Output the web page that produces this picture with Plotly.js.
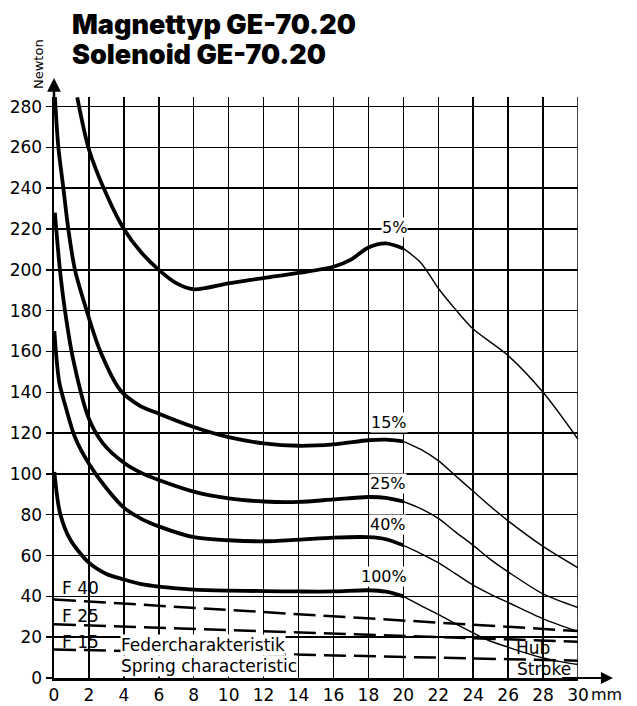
<!DOCTYPE html>
<html><head><meta charset="utf-8">
<script src="https://cdn.plot.ly/plotly-3.0.1.min.js"></script>
<style>html,body{margin:0;padding:0;background:#fff}#chart{width:637px;height:706px}</style>
</head><body><div id="chart"></div>
<script>
// ---- data ----
const xTickVals = [0,2,4,6,8,10,12,14,16,18,20,22,24,26,28,30];
const yTickVals = [0,20,40,60,80,100,120,140,160,180,200,220,240,260,280];

const x5   = [1.33,2,3,4,5,6,7,8,10,12,14,16,17,18,19,20,21,22,23,24,26,28,30];
const y5   = [284.5,259,237,220,208.5,200,193.5,190.5,193.4,196,198.5,201.5,205,211,213,210.5,203.5,191,180.5,171,158,140,117];

const x15  = [0.05,0.25,0.53,0.82,1.2,1.87,2.63,3.8,4.9,6,8,10,12,14,16,18,19,20,21,22,23,24,25,26,28,30];
const y15  = [285,260,240.5,220,200,180,160.5,141,133.5,129.5,123,118,115,113.8,114.5,116.5,116.8,116,112,106.5,99,91.5,84,77,64.5,54];

const x25  = [0.05,0.34,0.63,1.1,2,2.8,4,5,6,8,10,12,14,16,18,19,20,21,22,23,24,25,26,28,30];
const y25  = [228,200,180,156,127,115,105.5,100.5,97,91.3,88,86.5,86.3,87.5,88.7,88.3,86.5,83,78.2,71.5,65,58,52,41.2,34.5];

const x40  = [0.02,0.3,0.73,1.2,2,3,4,5,6,8,10,12,14,16,18,19,20,21,22,23,24,25,26,28,30];
const y40  = [170,145,131,118,105,93,83.5,78,74.3,69,67.5,67,67.8,68.8,69,68,65,61,56.5,51,45.5,41,37,29,22.8];

const x100 = [0.02,0.34,0.92,2,3,4,5,6,8,10,12,14,16,18,19,20,21,22,23,24,25,26,27,28,29,30];
const y100 = [101,81,68,56.5,51,48.3,46,44.8,43.3,42.8,42.6,42.4,42.4,43,42.3,40,35.5,31.2,26.5,22.1,18,15.1,12.3,9.8,8,6.6];

const springX = [0,30];
const springF40 = [38.5,23];
const springF25 = [26.3,17.8];
const springF15 = [14,8.5];

const curveLabels = ["5%","15%","25%","40%","100%"];
const springLabels = ["F 40","F 25","F 15"];
const titleLines = ["Magnettyp GE-70.20","Solenoid GE-70.20"];

// ---- build traces ----
const FONT = "DejaVu Sans, Verdana, sans-serif";
const TITLEFONT = "Inter, DejaVu Sans, sans-serif";
const SPLIT = 20;
const traces = [];
function addCurve(xs, ys){
  const tx=[],ty=[],nx=[],ny=[];
  xs.forEach((x,i)=>{
    if(x<=SPLIT){tx.push(x);ty.push(ys[i]);}
    if(x>=SPLIT){nx.push(x);ny.push(ys[i]);}
  });
  traces.push({x:tx,y:ty,mode:'lines',line:{color:'#000',width:3.8,shape:'spline',smoothing:0.8},hoverinfo:'skip',cliponaxis:false});
  traces.push({x:nx,y:ny,mode:'lines',line:{color:'#000',width:1.4,shape:'spline',smoothing:0.8},hoverinfo:'skip',cliponaxis:false});
}
addCurve(x5,y5); addCurve(x15,y15); addCurve(x25,y25); addCurve(x40,y40); addCurve(x100,y100);
[springF40,springF25,springF15].forEach(ys=>{
  traces.push({x:springX,y:ys,mode:'lines',line:{color:'#000',width:2.5,dash:'22px,8px'},hoverinfo:'skip'});
});

const curveLabelPos = [[19.5,221],[19.2,125],[19.1,95.2],[19.1,75.1],[18.9,49.5]];
const springLabelPos = [[0.34,44],[0.34,30.2],[0.34,17.6]];

const T = (o)=>Object.assign({showarrow:false,xanchor:'center',yanchor:'middle'},o);
const annotations = [];
curveLabels.forEach((t,i)=>annotations.push(T({x:curveLabelPos[i][0],y:curveLabelPos[i][1],xref:'x',yref:'y',text:t,font:{family:FONT,size:16,color:'#000'},bgcolor:'#fff',borderpad:0})));
springLabels.forEach((t,i)=>annotations.push(T({x:springLabelPos[i][0],y:springLabelPos[i][1],xref:'x',yref:'y',xanchor:'left',text:t,font:{family:FONT,size:17,color:'#000'}})));
annotations.push(T({x:3.78,y:16.3,xref:'x',yref:'y',xanchor:'left',text:'Federcharakteristik',font:{family:FONT,size:17,color:'#000'},bgcolor:'#fff',borderpad:0}));
annotations.push(T({x:3.78,y:5.7,xref:'x',yref:'y',xanchor:'left',text:'Spring characteristic',font:{family:FONT,size:17,color:'#000'},bgcolor:'#fff',borderpad:0}));
annotations.push(T({x:27.45,y:14.7,xref:'x',yref:'y',text:'Hub',font:{family:FONT,size:17,color:'#000'}}));
annotations.push(T({x:28.05,y:4.2,xref:'x',yref:'y',text:'Stroke',font:{family:FONT,size:17,color:'#000'}}));
annotations.push(T({x:(589-54)/524,y:(678-694)/581,xref:'paper',yref:'paper',xanchor:'left',text:'mm',font:{family:FONT,size:16,color:'#000'}}));
annotations.push(T({x:(38-54)/524,y:(678-64)/581,xref:'paper',yref:'paper',text:'Newton',textangle:-90,font:{family:FONT,size:13,color:'#000'}}));
annotations.push(T({x:(70-54)/524,y:(678-24)/581,xref:'paper',yref:'paper',xanchor:'left',text:titleLines[0],font:{family:TITLEFONT,size:27,weight:900,color:'#000'}}));
annotations.push(T({x:(70-54)/524,y:(678-55)/581,xref:'paper',yref:'paper',xanchor:'left',text:titleLines[1],font:{family:TITLEFONT,size:27,weight:900,color:'#000'}}));
// axis arrows
annotations.push({x:32,y:0,xref:'x',yref:'y',ax:29,ay:0,axref:'x',ayref:'y',text:'',showarrow:true,arrowhead:2,arrowsize:1.2,arrowwidth:2,arrowcolor:'#000'});
annotations.push({x:0,y:294,xref:'x',yref:'y',ax:0,ay:280,axref:'x',ayref:'y',text:'',showarrow:true,arrowhead:2,arrowsize:1.1,arrowwidth:2.5,arrowcolor:'#000'});

const layout = {
  width:637,height:706,
  margin:{l:54,r:59,t:97,b:28,pad:0},
  paper_bgcolor:'#fff',plot_bgcolor:'#fff',
  showlegend:false,
  xaxis:{range:[0,30],tickmode:'array',tickvals:xTickVals,ticktext:xTickVals.map(String),
    showgrid:true,gridcolor:'#000',gridwidth:1.5,zeroline:false,showline:true,linecolor:'#000',linewidth:2.5,
    ticks:'',tickfont:{family:FONT,size:17,color:'#000'},fixedrange:true},
  yaxis:{range:[0,284.7],tickmode:'array',tickvals:yTickVals,ticktext:yTickVals.map(String),
    showgrid:true,gridcolor:'#000',gridwidth:1.5,zeroline:false,showline:true,linecolor:'#000',linewidth:2.5,
    ticks:'outside',ticklen:6,tickwidth:1.5,tickcolor:'#000',tickfont:{family:FONT,size:17,color:'#000'},fixedrange:true},
  shapes:[{type:'line',xref:'x',yref:'y',x0:30,x1:30,y0:0,y1:284.7,line:{color:'#000',width:1.5},layer:'below'}],
  annotations:annotations
};
Plotly.newPlot('chart',traces,layout,{staticPlot:true,displayModeBar:false});
</script>
</body></html>
